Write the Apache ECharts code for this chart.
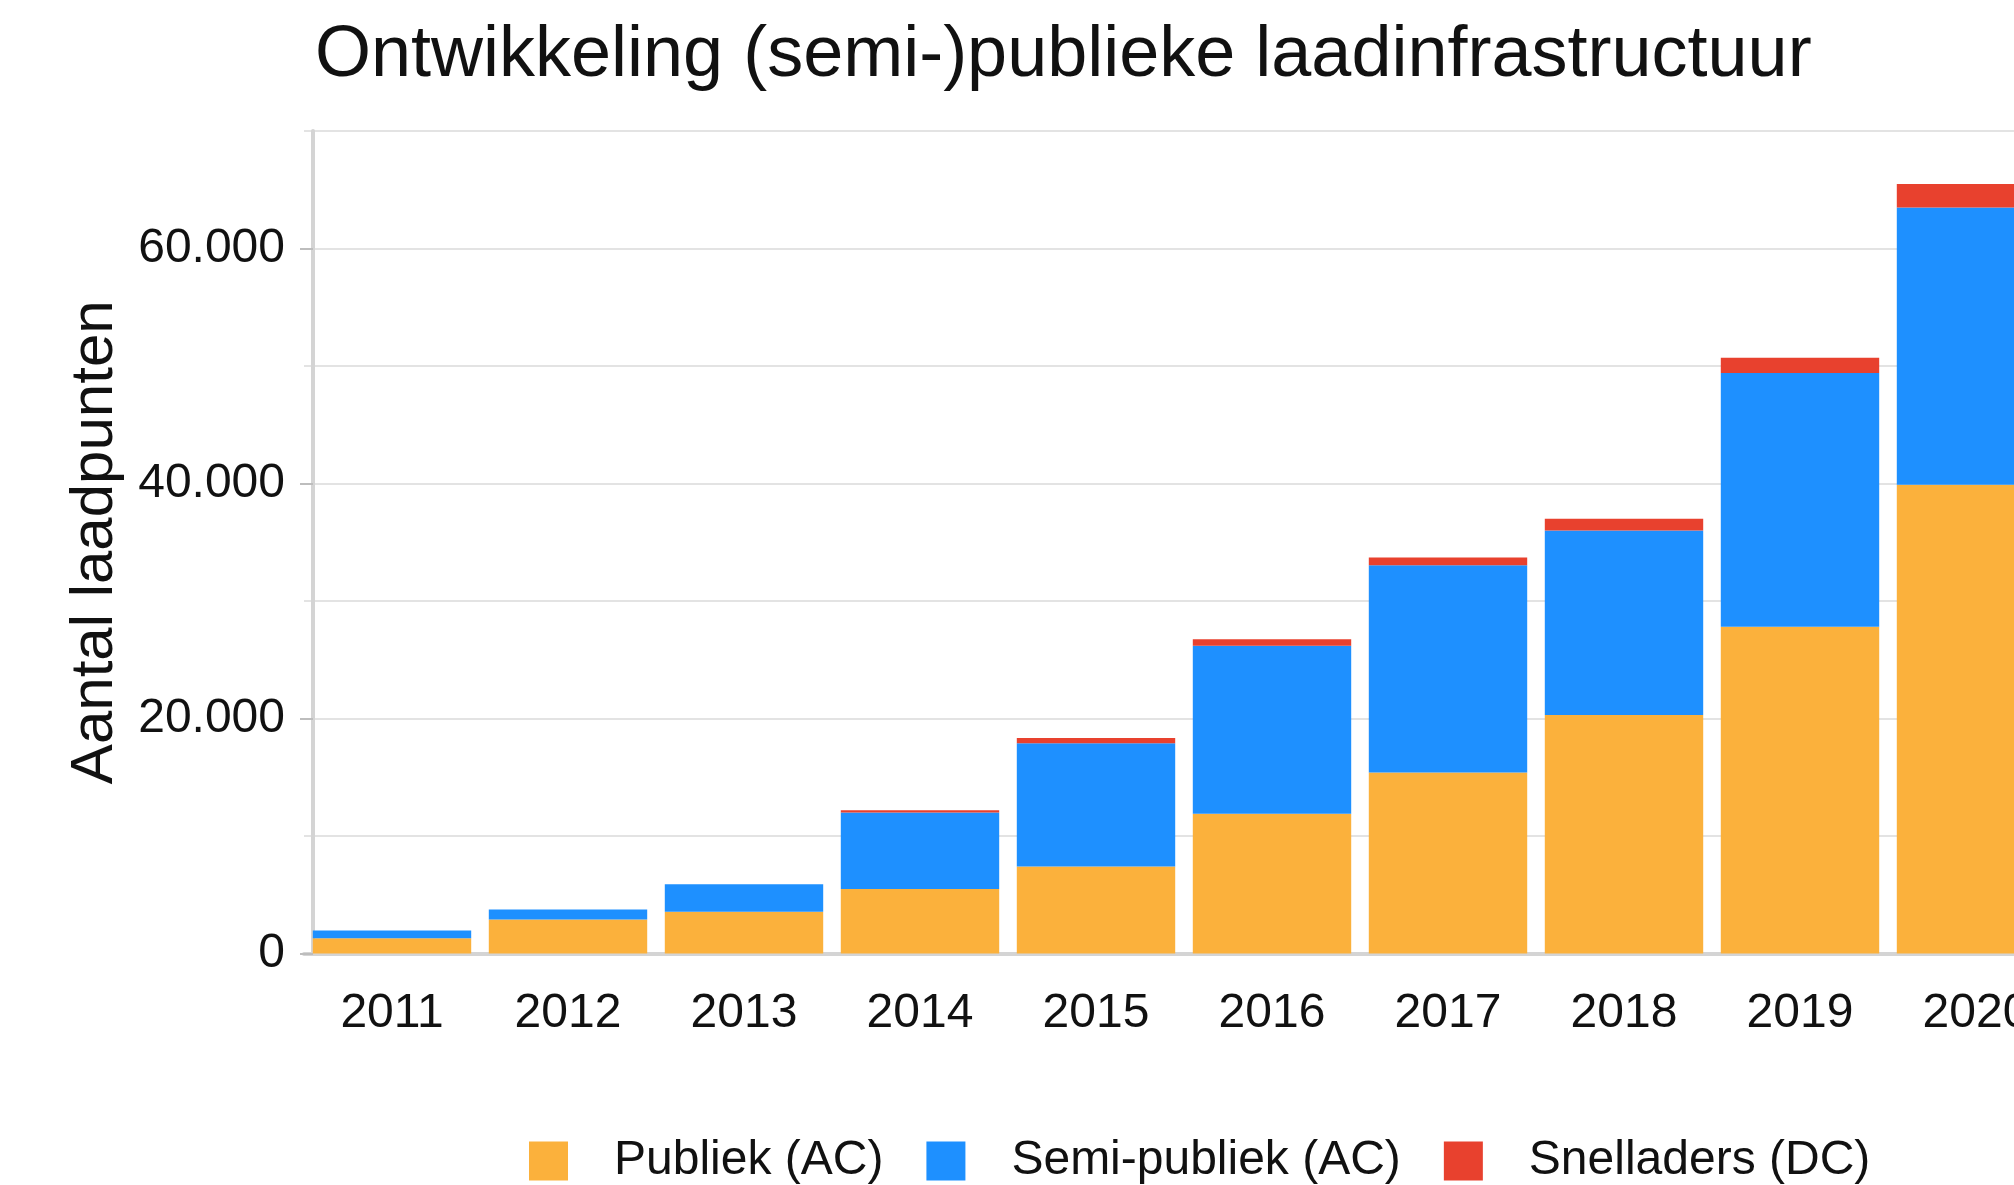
<!DOCTYPE html>
<html>
<head>
<meta charset="utf-8">
<script src="https://cdn.jsdelivr.net/npm/echarts@6/dist/echarts.min.js"></script>
<style>
  html, body { margin: 0; padding: 0; background: #fff; overflow: hidden; }
  /* iets breder dan het venster: de laatste staaf valt rechts buiten beeld */
  #chart { width: 2064px; height: 1185px; }
</style>
</head>
<body>
<div id="chart"></div>
<script>
// jaren op de x-as
const years = ['2011', '2012', '2013', '2014', '2015', '2016', '2017', '2018', '2019', '2020'];
// aantallen per type laadpunt
const publiekAC = [1300, 2900, 3550, 5500, 7400, 11900, 15400, 20300, 27800, 39900];
const semiPubliekAC = [650, 850, 2350, 6500, 10500, 14300, 17650, 15700, 21600, 23600];
const snelladersDC = [0, 0, 0, 200, 450, 550, 650, 1000, 1300, 2000];
// gelabelde waarden op de y-as
const yTicks = [0, 20000, 40000, 60000];

const FONT = '"Liberation Sans", Arial, sans-serif';

// 20000 -> "20.000"
const fmt = v => String(v).replace(/\B(?=(\d{3})+(?!\d))/g, '.');

const chart = echarts.init(document.getElementById('chart'));

chart.setOption({
  backgroundColor: '#ffffff',
  animation: false,
  title: {
    text: 'Ontwikkeling (semi-)publieke laadinfrastructuur',
    left: 315,
    top: 20,
    padding: 0,
    textStyle: { fontFamily: FONT, fontSize: 72, fontWeight: 'normal', color: '#111' }
  },
  legend: {
    left: 529,
    top: 1137,
    padding: 0,
    itemWidth: 39,
    itemHeight: 39,
    itemGap: 43,
    icon: 'rect',
    data: ['Publiek (AC)', 'Semi-publiek (AC)', 'Snelladers (DC)'],
    textStyle: { fontFamily: FONT, fontSize: 48, color: '#111', padding: [0, 0, 0, 41] }
  },
  grid: {
    left: 304,
    top: 131,
    right: 0,
    bottom: 231.5
  },
  xAxis: {
    type: 'category',
    data: years,
    offset: 6,
    axisLine: { lineStyle: { color: '#d4d4d4', width: 4 } },
    axisTick: { alignWithLabel: true, length: 13, lineStyle: { color: '#bdbdbd', width: 2 } },
    axisLabel: { fontFamily: FONT, fontSize: 48, color: '#111', margin: 30 },
    splitLine: { show: false }
  },
  yAxis: [
    {
      // rasterlijnen om de 10.000
      type: 'value',
      min: 0,
      max: 70000,
      interval: 10000,
      offset: -9,
      axisLine: { show: true, lineStyle: { color: '#d4d4d4', width: 4 } },
      axisTick: { show: false },
      axisLabel: { show: false },
      splitLine: { show: true, lineStyle: { color: '#e3e3e3', width: 2 } }
    },
    {
      // labels en streepjes om de 20.000
      type: 'value',
      position: 'left',
      min: 0,
      max: 70000,
      offset: -9,
      name: 'Aantal laadpunten',
      nameLocation: 'middle',
      nameGap: 188,
      nameTextStyle: { fontFamily: FONT, fontSize: 60, color: '#111' },
      axisLine: { show: false },
      axisTick: { show: true, length: 13, customValues: yTicks, lineStyle: { color: '#bdbdbd', width: 2 } },
      axisLabel: {
        fontFamily: FONT, fontSize: 48, color: '#111', margin: 28,
        customValues: yTicks,
        formatter: v => fmt(v)
      },
      splitLine: { show: false }
    }
  ],
  series: [
    {
      name: 'Publiek (AC)',
      type: 'bar',
      stack: 'totaal',
      barCategoryGap: '10%',
      itemStyle: { color: '#fbb13c' },
      data: publiekAC
    },
    {
      name: 'Semi-publiek (AC)',
      type: 'bar',
      stack: 'totaal',
      itemStyle: { color: '#1e90ff' },
      data: semiPubliekAC
    },
    {
      name: 'Snelladers (DC)',
      type: 'bar',
      stack: 'totaal',
      itemStyle: { color: '#e8412e' },
      data: snelladersDC
    }
  ]
});
</script>
</body>
</html>
